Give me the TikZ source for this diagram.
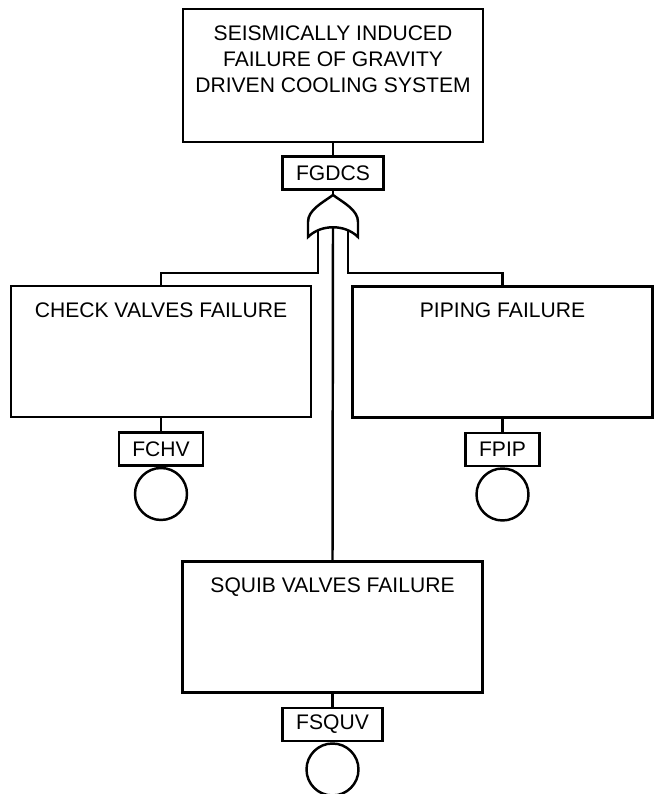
\documentclass[tikz,border=0pt]{standalone}
\usepackage{fontspec}
\setmainfont{Liberation Sans}
\usetikzlibrary{positioning}

\begin{document}
\begin{tikzpicture}[
    x=0.02cm, y=-0.02cm,
    node distance=0.26cm,
    link/.style={line width=1.4pt},
    event/.style={
        rectangle,
        minimum width=6cm,
        minimum height=2.62cm,
        draw=black,
        line width=1.5pt
    },
    evtext/.style={
        anchor=north,
        align=center,
        inner sep=0pt,
        font=\fontsize{12}{14.8}\selectfont
    },
    tag/.style={
        rectangle,
        minimum height=0.66cm,
        inner xsep=0.27cm,
        draw=black,
        line width=1.4pt,
        font=\fontsize{12}{14}\selectfont
    },
    basic/.style={
        circle,
        minimum size=1.04cm,
        draw=black,
        line width=1.4pt
    }
]

\useasboundingbox (0,0) rectangle (656,794);

% top event and OR gate
\node[event, minimum height=2.66cm] (top) at (333,75.5) {};
\node[evtext] (toptxt) at ([yshift=-0.35cm]top.north) {
    SEISMICALLY INDUCED\\
    FAILURE OF GRAVITY\\
    DRIVEN COOLING SYSTEM
};
\node[tag, below=0.24cm of top] (fgdcs) {FGDCS};

\draw[link, fill=white] (308,237) -- (308,222)
    .. controls (308,210) and (322,203) .. (333,195)
    .. controls (344,203) and (358,210) .. (358,222) -- (358,237)
    .. controls (345,224) and (321,224) .. (308,237) -- cycle;
\coordinate (gtip) at (333,195);
\coordinate (gin1) at (318,231);
\coordinate (gin2) at (333,227);
\coordinate (gin3) at (348,231);

% basic events
\node[event] (chv) at (161,351.5) {};
\node[evtext] (chvtxt) at ([yshift=-0.35cm]chv.north) {CHECK VALVES FAILURE};
\node[tag, below=of chv] (fchv) {FCHV};
\node[basic, below=0pt of fchv] (bchv) {};

\node[event] (pip) at (502.5,352) {};
\node[evtext] (piptxt) at ([yshift=-0.35cm]pip.north) {PIPING FAILURE};
\node[tag, below=of pip] (fpip) {FPIP};
\node[basic, below=0pt of fpip] (bpip) {};

\node[event] (squ) at (332.5,627) {};
\node[evtext] (squtxt) at ([yshift=-0.35cm]squ.north) {SQUIB VALVES FAILURE};
\node[tag, below=of squ] (fsquv) {FSQUV};
\node[basic, below=0pt of fsquv] (bsquv) {};

\draw[link] (top) -- (fgdcs);
\draw[link] (fgdcs) -- (gtip);
\draw[link] (gin1) -- ++(0,42) -| (chv.north);
\draw[link] (gin3) -- ++(0,42) -| (pip.north);
\draw[link] (gin2) -- (squ.north);
\draw[link] (chv) -- (fchv);
\draw[link] (pip) -- (fpip);
\draw[link] (squ) -- (fsquv);

\end{tikzpicture}
\end{document}
